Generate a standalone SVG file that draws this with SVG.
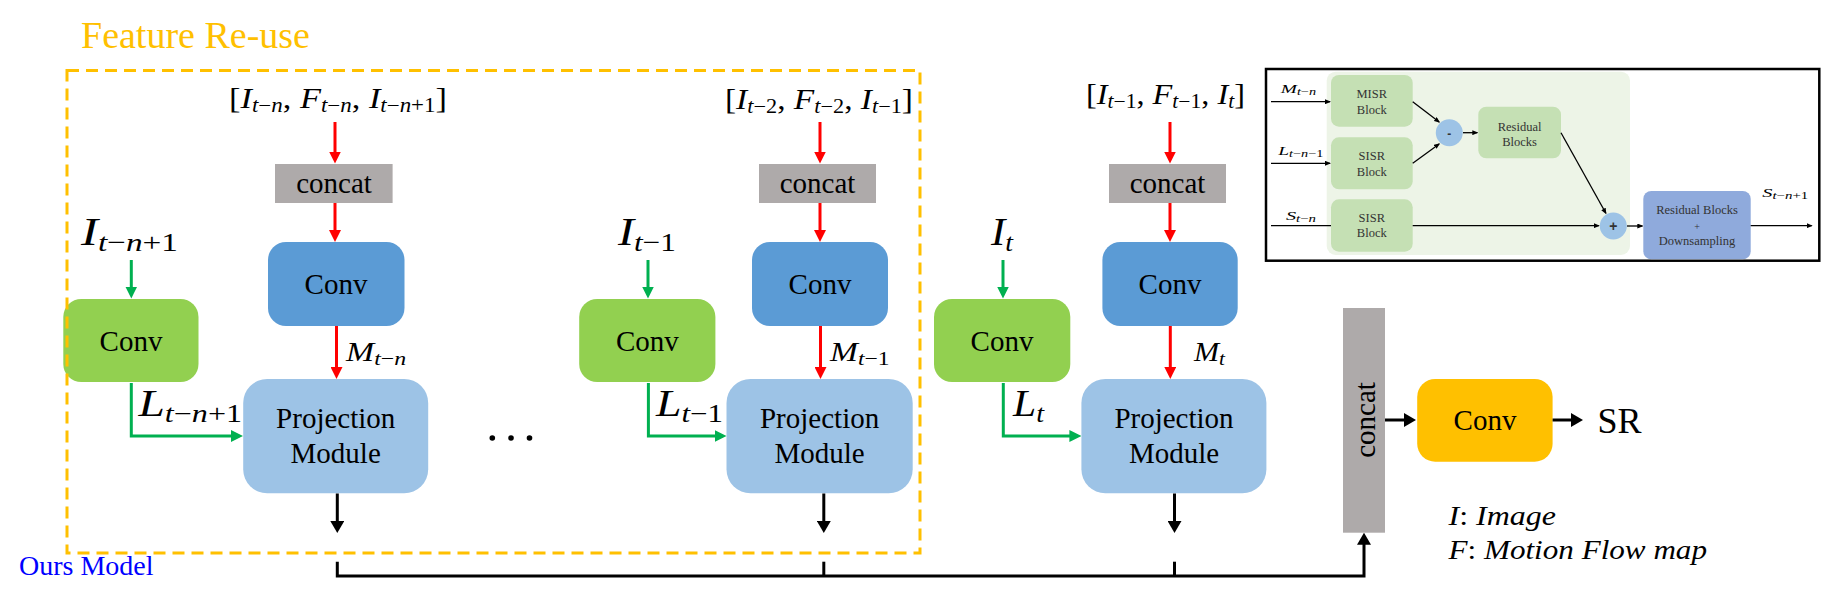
<svg xmlns="http://www.w3.org/2000/svg" width="1821" height="601" viewBox="0 0 1821 601">
<style>
.t{font-family:"Liberation Serif","Times New Roman",serif;fill:#000}
.m{font-family:"Liberation Serif","Times New Roman",serif;font-style:italic;fill:#000}
.u{font-style:normal}
.c{text-anchor:middle}
.box{font-family:"Liberation Serif","Times New Roman",serif;font-size:29px;fill:#000;text-anchor:middle}
.red{stroke:#FF0000;stroke-width:3;fill:none}
.grn{stroke:#00B050;stroke-width:3;fill:none}
.blk{stroke:#000;stroke-width:3;fill:none}
.thin{stroke:#000;stroke-width:1.3;fill:none}
.it{font-family:"Liberation Serif","Times New Roman",serif;font-size:12.5px;fill:#333;text-anchor:middle}
</style>
<defs>
<marker id="ar" markerWidth="12" markerHeight="12" refX="8" refY="6" orient="auto" markerUnits="userSpaceOnUse"><path d="M0,0 L12,6 L0,12 z" fill="#FF0000"/></marker>
<marker id="ag" markerWidth="12" markerHeight="12" refX="8" refY="6" orient="auto" markerUnits="userSpaceOnUse"><path d="M0,0 L12,6 L0,12 z" fill="#00B050"/></marker>
<marker id="ak" markerWidth="12" markerHeight="14" refX="8" refY="7" orient="auto" markerUnits="userSpaceOnUse"><path d="M0,0 L12,7 L0,14 z" fill="#000"/></marker>
<marker id="as" markerWidth="6" markerHeight="5" refX="5" refY="2.5" orient="auto" markerUnits="userSpaceOnUse"><path d="M0,0 L6,2.5 L0,5 z" fill="#000"/></marker>
</defs>
<rect width="1821" height="601" fill="#fff"/>

<text class="t" x="81" y="48" font-size="38" style="fill:#FFC000">Feature Re-use</text>
<text class="t" x="19" y="575" font-size="28" style="fill:#0000FF">Ours Model</text>

<g id="formulas">
<text class="m" x="229" y="108" font-size="30" textLength="218" lengthAdjust="spacingAndGlyphs"><tspan class="u">[</tspan>I<tspan font-size="20" dy="4">t</tspan><tspan font-size="20" class="u">−</tspan><tspan font-size="20">n</tspan><tspan class="u" dy="-4">, </tspan>F<tspan font-size="20" dy="4">t</tspan><tspan font-size="20" class="u">−</tspan><tspan font-size="20">n</tspan><tspan class="u" dy="-4">, </tspan>I<tspan font-size="20" dy="4">t</tspan><tspan font-size="20" class="u">−</tspan><tspan font-size="20">n</tspan><tspan font-size="20" class="u">+1</tspan><tspan class="u" dy="-4">]</tspan></text>
<text class="m" x="725" y="109" font-size="30" textLength="188" lengthAdjust="spacingAndGlyphs"><tspan class="u">[</tspan>I<tspan font-size="20" dy="4">t</tspan><tspan font-size="20" class="u">−2</tspan><tspan class="u" dy="-4">, </tspan>F<tspan font-size="20" dy="4">t</tspan><tspan font-size="20" class="u">−2</tspan><tspan class="u" dy="-4">, </tspan>I<tspan font-size="20" dy="4">t</tspan><tspan font-size="20" class="u">−1</tspan><tspan class="u" dy="-4">]</tspan></text>
<text class="m" x="1086" y="104" font-size="30" textLength="159" lengthAdjust="spacingAndGlyphs"><tspan class="u">[</tspan>I<tspan font-size="20" dy="4">t</tspan><tspan font-size="20" class="u">−1</tspan><tspan class="u" dy="-4">, </tspan>F<tspan font-size="20" dy="4">t</tspan><tspan font-size="20" class="u">−1</tspan><tspan class="u" dy="-4">, </tspan>I<tspan font-size="20" dy="4">t</tspan><tspan class="u" dy="-4">]</tspan></text>
</g>

<g id="concat1"><rect x="275" y="164" width="117.6" height="39" fill="#AEAAAA"/><text class="box" x="334" y="193">concat</text></g>
<g id="concat2"><rect x="759" y="164" width="117" height="39" fill="#AEAAAA"/><text class="box" x="817.5" y="193">concat</text></g>
<g id="concat3"><rect x="1109" y="164" width="117" height="39" fill="#AEAAAA"/><text class="box" x="1167.5" y="193">concat</text></g>

<g id="bconv1"><rect x="268" y="242" width="136.5" height="84" rx="18" fill="#5B9BD5"/><text class="box" x="336" y="294">Conv</text></g>
<g id="bconv2"><rect x="752" y="242" width="136" height="84" rx="18" fill="#5B9BD5"/><text class="box" x="820" y="294">Conv</text></g>
<g id="bconv3"><rect x="1102.4" y="242" width="135.3" height="84" rx="18" fill="#5B9BD5"/><text class="box" x="1170" y="294">Conv</text></g>

<g id="gconv1"><rect x="63.3" y="299" width="135.2" height="83" rx="18" fill="#92D050"/><text class="box" x="131" y="350.5">Conv</text></g>
<g id="gconv2"><rect x="579.2" y="299" width="136.2" height="83" rx="18" fill="#92D050"/><text class="box" x="647.3" y="350.5">Conv</text></g>
<g id="gconv3"><rect x="934" y="299" width="136.3" height="83" rx="18" fill="#92D050"/><text class="box" x="1002" y="350.5">Conv</text></g>

<g id="proj1"><rect x="243.2" y="379" width="185" height="114.3" rx="24" fill="#9DC3E6"/><text class="box" x="335.7" y="428">Projection</text><text class="box" x="335.7" y="463">Module</text></g>
<g id="proj2"><rect x="726.5" y="379" width="186.2" height="114.3" rx="24" fill="#9DC3E6"/><text class="box" x="819.6" y="428">Projection</text><text class="box" x="819.6" y="463">Module</text></g>
<g id="proj3"><rect x="1081.4" y="379" width="185" height="114.3" rx="24" fill="#9DC3E6"/><text class="box" x="1174" y="428">Projection</text><text class="box" x="1174" y="463">Module</text></g>

<g id="dots" fill="#000"><circle cx="492.3" cy="438" r="2.8"/><circle cx="511" cy="438" r="2.8"/><circle cx="529.5" cy="438" r="2.8"/></g>

<g id="concatV"><rect x="1343" y="308" width="42" height="224.7" fill="#AEAAAA"/><text class="box" transform="translate(1374.5,420) rotate(-90)" x="0" y="0">concat</text></g>
<g id="oconv"><rect x="1417.2" y="379" width="135.4" height="82.7" rx="18" fill="#FFC000"/><text class="box" x="1485" y="430">Conv</text></g>
<g id="sr"><text class="t" x="1597.5" y="433" font-size="36">SR</text></g>

<g id="labels">
<text class="m" x="81" y="245" font-size="40" textLength="97" lengthAdjust="spacingAndGlyphs">I<tspan font-size="26" dy="6">t</tspan><tspan font-size="26" class="u">−</tspan><tspan font-size="26">n</tspan><tspan font-size="26" class="u">+1</tspan></text>
<text class="m" x="618" y="245" font-size="40" textLength="58" lengthAdjust="spacingAndGlyphs">I<tspan font-size="26" dy="6">t</tspan><tspan font-size="26" class="u">−1</tspan></text>
<text class="m" x="991" y="245" font-size="40" textLength="22" lengthAdjust="spacingAndGlyphs">I<tspan font-size="26" dy="6">t</tspan></text>

<text class="m" x="346" y="361" font-size="27" textLength="60" lengthAdjust="spacingAndGlyphs">M<tspan font-size="19" dy="4">t</tspan><tspan font-size="19" class="u">−</tspan><tspan font-size="19">n</tspan></text>
<text class="m" x="830" y="361" font-size="27" textLength="59.5" lengthAdjust="spacingAndGlyphs">M<tspan font-size="19" dy="4">t</tspan><tspan font-size="19" class="u">−1</tspan></text>
<text class="m" x="1194" y="361" font-size="27" textLength="31" lengthAdjust="spacingAndGlyphs">M<tspan font-size="19" dy="4">t</tspan></text>

<text class="m" x="138.5" y="416" font-size="37" textLength="103.5" lengthAdjust="spacingAndGlyphs">L<tspan font-size="25" dy="6">t</tspan><tspan font-size="25" class="u">−</tspan><tspan font-size="25">n</tspan><tspan font-size="25" class="u">+1</tspan></text>
<text class="m" x="656" y="416" font-size="37" textLength="67" lengthAdjust="spacingAndGlyphs">L<tspan font-size="25" dy="6">t</tspan><tspan font-size="25" class="u">−1</tspan></text>
<text class="m" x="1013" y="416" font-size="37" textLength="31" lengthAdjust="spacingAndGlyphs">L<tspan font-size="25" dy="6">t</tspan></text>

<text class="m" x="1448.5" y="525" font-size="27" textLength="107.5" lengthAdjust="spacingAndGlyphs">I<tspan class="u">: </tspan>Image</text>
<text class="m" x="1448.5" y="559" font-size="27" textLength="258.5" lengthAdjust="spacingAndGlyphs">F<tspan class="u">: </tspan>Motion Flow map</text>
</g>

<g id="connectors">
<path class="red" d="M335,122 V159.5" marker-end="url(#ar)"/>
<path class="red" d="M335,203 V238" marker-end="url(#ar)"/>
<path class="red" d="M336.5,326 V375" marker-end="url(#ar)"/>
<path class="red" d="M820,122 V159.5" marker-end="url(#ar)"/>
<path class="red" d="M820,203 V238" marker-end="url(#ar)"/>
<path class="red" d="M820.5,326 V375" marker-end="url(#ar)"/>
<path class="red" d="M1170,122 V159.5" marker-end="url(#ar)"/>
<path class="red" d="M1170,203 V238" marker-end="url(#ar)"/>
<path class="red" d="M1170.3,326 V375" marker-end="url(#ar)"/>

<path class="grn" d="M131.3,260 V294.5" marker-end="url(#ag)"/>
<path class="grn" d="M648,260 V294.5" marker-end="url(#ag)"/>
<path class="grn" d="M1003,260 V294.5" marker-end="url(#ag)"/>
<path class="grn" d="M131.3,383 V436 H239" marker-end="url(#ag)"/>
<path class="grn" d="M648.4,383 V436 H722.5" marker-end="url(#ag)"/>
<path class="grn" d="M1003.3,383 V436 H1077.4" marker-end="url(#ag)"/>

<path class="blk" d="M337.3,493.5 V529" marker-end="url(#ak)"/>
<path class="blk" d="M823.8,493.5 V529" marker-end="url(#ak)"/>
<path class="blk" d="M1174.5,493.5 V529" marker-end="url(#ak)"/>
<path class="blk" d="M337.3,561.7 V576 H1364 V536.7" marker-end="url(#ak)"/>
<path class="blk" d="M823.8,561.7 V576"/>
<path class="blk" d="M1174.5,561.7 V576"/>
<path class="blk" d="M1385,420 H1412" marker-end="url(#ak)"/>
<path class="blk" d="M1552.6,420 H1579" marker-end="url(#ak)"/>
</g>

<rect id="featureReuse" x="67" y="70.5" width="853" height="482.5" fill="none" stroke="#FFC000" stroke-width="3" stroke-dasharray="12 7"/>

<g id="inset">
<rect x="1266" y="69" width="553.3" height="191.7" fill="#fff" stroke="#000" stroke-width="2.5"/>
<rect x="1326.7" y="71.7" width="303.3" height="183.3" rx="9" fill="#EDF4E7"/>
<g id="misr"><rect x="1331" y="75" width="81.7" height="51.7" rx="8" fill="#C5E0B4"/><text class="it" x="1371.8" y="97.5">MISR</text><text class="it" x="1371.8" y="113.5">Block</text></g>
<g id="sisr1"><rect x="1331" y="137.3" width="81.7" height="52" rx="8" fill="#C5E0B4"/><text class="it" x="1371.8" y="160">SISR</text><text class="it" x="1371.8" y="175.5">Block</text></g>
<g id="sisr2"><rect x="1331" y="199.3" width="81.7" height="52.4" rx="8" fill="#C5E0B4"/><text class="it" x="1371.8" y="222">SISR</text><text class="it" x="1371.8" y="237">Block</text></g>
<g id="resid"><rect x="1478.3" y="106.7" width="82.7" height="51.6" rx="8" fill="#C5E0B4"/><text class="it" x="1519.6" y="131">Residual</text><text class="it" x="1519.6" y="145.5">Blocks</text></g>
<g id="rbd"><rect x="1643.3" y="191" width="107.4" height="68.3" rx="8" fill="#8FAADC"/><text class="it" x="1697" y="214">Residual Blocks</text><text class="it" x="1697" y="230" style="font-size:10px">+</text><text class="it" x="1697" y="245">Downsampling</text></g>
<g id="minus"><circle cx="1449.3" cy="132.7" r="13.5" fill="#9DC3E6"/><text class="it" x="1449.3" y="137.5" style="font-weight:bold;font-family:'Liberation Sans',sans-serif;font-size:12px">-</text></g>
<g id="plus"><circle cx="1613.3" cy="226" r="13.5" fill="#9DC3E6"/><text class="it" x="1613.3" y="231" style="font-weight:bold;font-family:'Liberation Sans',sans-serif;font-size:14px">+</text></g>

<text class="m" x="1280.7" y="93.3" font-size="13" textLength="35.3" lengthAdjust="spacingAndGlyphs">M<tspan font-size="9.5" dy="2">t</tspan><tspan font-size="9.5" class="u">−</tspan><tspan font-size="9.5">n</tspan></text>
<text class="m" x="1278.3" y="155" font-size="13" textLength="45" lengthAdjust="spacingAndGlyphs">L<tspan font-size="9.5" dy="2">t</tspan><tspan font-size="9.5" class="u">−</tspan><tspan font-size="9.5">n</tspan><tspan font-size="9.5" class="u">−1</tspan></text>
<text class="m" x="1286" y="220" font-size="13" textLength="30" lengthAdjust="spacingAndGlyphs">S<tspan font-size="9.5" dy="2">t</tspan><tspan font-size="9.5" class="u">−</tspan><tspan font-size="9.5">n</tspan></text>
<text class="m" x="1762.3" y="196.7" font-size="13" textLength="46" lengthAdjust="spacingAndGlyphs">S<tspan font-size="9.5" dy="2">t</tspan><tspan font-size="9.5" class="u">−</tspan><tspan font-size="9.5">n</tspan><tspan font-size="9.5" class="u">+1</tspan></text>

<g id="insetConnectors">
<path class="thin" d="M1271,101.7 H1330" marker-end="url(#as)"/>
<path class="thin" d="M1271,163.3 H1330" marker-end="url(#as)"/>
<path class="thin" d="M1271,225.7 H1331"/>
<path class="thin" d="M1412.7,225.7 H1598.8" marker-end="url(#as)"/>
<path class="thin" d="M1412.7,101.7 L1439.2,122.1" marker-end="url(#as)"/>
<path class="thin" d="M1412.7,163.3 L1439.2,143.9" marker-end="url(#as)"/>
<path class="thin" d="M1463,132.7 H1477.3" marker-end="url(#as)"/>
<path class="thin" d="M1561,132.7 L1605.9,213.3" marker-end="url(#as)"/>
<path class="thin" d="M1627,226 H1642.3" marker-end="url(#as)"/>
<path class="thin" d="M1750.7,225.7 H1811.7" marker-end="url(#as)"/>
</g>
</g>
</svg>
